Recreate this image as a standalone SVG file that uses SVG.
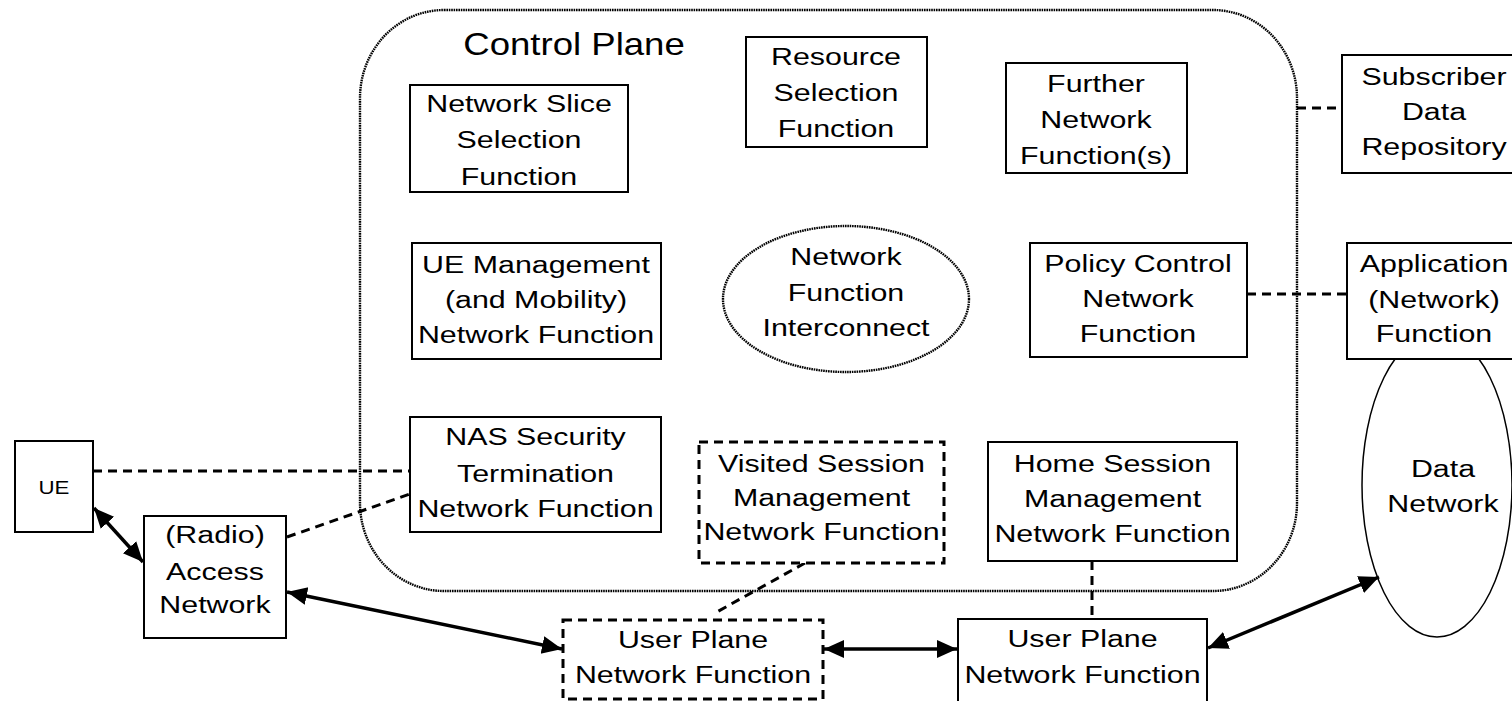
<svg xmlns="http://www.w3.org/2000/svg" width="1512" height="701" viewBox="0 0 1512 701">
<style>
.t{font-family:"Liberation Sans",Arial,sans-serif;font-size:24.5px;text-anchor:middle;fill:#000}
.box{fill:#fff;stroke:#000;stroke-width:2}
.dbox{fill:#fff;stroke:#000;stroke-width:3;stroke-dasharray:9 6}
.dot{fill:none;stroke:#000;stroke-width:2.4;stroke-dasharray:1.6 0.8}
.dash{fill:none;stroke:#000;stroke-width:3;stroke-dasharray:9 6}
.arr{fill:none;stroke:#000;stroke-width:3.5;marker-start:url(#ah);marker-end:url(#ah)}
</style>
<defs>
<marker id="ah" markerUnits="userSpaceOnUse" markerWidth="22" markerHeight="20" refX="20" refY="9" orient="auto-start-reverse">
<path d="M0,0 L20,9 L0,18 z" fill="#000"/>
</marker>
</defs>
<rect width="1512" height="701" fill="#fff"/>

<g id="control-plane">
<rect class="dot" x="360" y="10" width="937" height="581" rx="84" ry="88"/>
<text class="t" style="font-size:31px" transform="translate(574,0) scale(1.18,1)"><tspan x="0" y="55">Control Plane</tspan></text>
</g>

<g id="data-network">
<ellipse cx="1437" cy="485" rx="75" ry="152" fill="#fff" stroke="#000" stroke-width="1.5"/>
<text class="t" transform="translate(1443,0) scale(1.24,1)"><tspan x="0" y="477">Data</tspan><tspan x="0" y="512">Network</tspan></text>
</g>

<g id="connectors">
<line class="dash" x1="93" y1="471" x2="410" y2="471"/>
<line class="dash" x1="287" y1="537" x2="410" y2="494"/>
<line class="dash" x1="805" y1="563" x2="715" y2="613"/>
<line class="dash" x1="1092" y1="561" x2="1092" y2="619"/>
<line class="dash" x1="1297" y1="108" x2="1342" y2="108"/>
<line class="dash" x1="1247" y1="294" x2="1347" y2="294"/>
<line class="arr" x1="94" y1="508" x2="143" y2="562"/>
<line class="arr" x1="287" y1="592" x2="562" y2="649"/>
<line class="arr" x1="824" y1="649" x2="957" y2="649"/>
<line class="arr" x1="1208" y1="648" x2="1379" y2="577"/>
</g>

<g id="nssf">
<rect class="box" x="410" y="85" width="218" height="107"/>
<text class="t" transform="translate(519,0) scale(1.24,1)"><tspan x="0" y="112">Network Slice</tspan><tspan x="0" y="148">Selection</tspan><tspan x="0" y="185">Function</tspan></text>
</g>

<g id="resource-selection">
<rect class="box" x="746" y="37" width="181" height="110"/>
<text class="t" transform="translate(836,0) scale(1.24,1)"><tspan x="0" y="65">Resource</tspan><tspan x="0" y="101">Selection</tspan><tspan x="0" y="137">Function</tspan></text>
</g>

<g id="further-nf">
<rect class="box" x="1006" y="63" width="181" height="110"/>
<text class="t" transform="translate(1096,0) scale(1.24,1)"><tspan x="0" y="92">Further</tspan><tspan x="0" y="128">Network</tspan><tspan x="0" y="164">Function(s)</tspan></text>
</g>

<g id="subscriber-data">
<rect class="box" x="1342" y="55" width="190" height="118"/>
<text class="t" transform="translate(1434,0) scale(1.24,1)"><tspan x="0" y="85">Subscriber</tspan><tspan x="0" y="120">Data</tspan><tspan x="0" y="155">Repository</tspan></text>
</g>

<g id="ue-management">
<rect class="box" x="412" y="243" width="249" height="116"/>
<text class="t" transform="translate(536,0) scale(1.24,1)"><tspan x="0" y="273">UE Management</tspan><tspan x="0" y="308">(and Mobility)</tspan><tspan x="0" y="343">Network Function</tspan></text>
</g>

<g id="nf-interconnect">
<ellipse class="dot" cx="846" cy="299" rx="123" ry="73" fill="#fff"/>
<text class="t" transform="translate(846,0) scale(1.24,1)"><tspan x="0" y="265">Network</tspan><tspan x="0" y="301">Function</tspan><tspan x="0" y="336">Interconnect</tspan></text>
</g>

<g id="policy-control">
<rect class="box" x="1030" y="243" width="217" height="114"/>
<text class="t" transform="translate(1138,0) scale(1.24,1)"><tspan x="0" y="272">Policy Control</tspan><tspan x="0" y="307">Network</tspan><tspan x="0" y="342">Function</tspan></text>
</g>

<g id="application-function">
<rect class="box" x="1347" y="243" width="180" height="116"/>
<text class="t" transform="translate(1434,0) scale(1.24,1)"><tspan x="0" y="272">Application</tspan><tspan x="0" y="308">(Network)</tspan><tspan x="0" y="342">Function</tspan></text>
</g>

<g id="nas-security">
<rect class="box" x="410" y="417" width="251" height="115"/>
<text class="t" transform="translate(535.5,0) scale(1.24,1)"><tspan x="0" y="445">NAS Security</tspan><tspan x="0" y="482">Termination</tspan><tspan x="0" y="517">Network Function</tspan></text>
</g>

<g id="visited-session">
<rect class="dbox" x="699" y="442" width="245" height="121"/>
<text class="t" transform="translate(821.5,0) scale(1.24,1)"><tspan x="0" y="472">Visited Session</tspan><tspan x="0" y="506">Management</tspan><tspan x="0" y="540">Network Function</tspan></text>
</g>

<g id="home-session">
<rect class="box" x="988" y="442" width="249" height="119"/>
<text class="t" transform="translate(1112.5,0) scale(1.24,1)"><tspan x="0" y="472">Home Session</tspan><tspan x="0" y="507">Management</tspan><tspan x="0" y="542">Network Function</tspan></text>
</g>

<g id="ue">
<rect class="box" x="15" y="441" width="78" height="91"/>
<text class="t" style="font-size:18px" transform="translate(54,0) scale(1.24,1)"><tspan x="0" y="494">UE</tspan></text>
</g>

<g id="ran">
<rect class="box" x="144" y="516" width="142" height="122"/>
<text class="t" transform="translate(215,0) scale(1.24,1)"><tspan x="0" y="543">(Radio)</tspan><tspan x="0" y="580">Access</tspan><tspan x="0" y="613">Network</tspan></text>
</g>

<g id="upf-visited">
<rect class="dbox" x="563" y="620" width="260" height="79"/>
<text class="t" transform="translate(693,0) scale(1.24,1)"><tspan x="0" y="648">User Plane</tspan><tspan x="0" y="683">Network Function</tspan></text>
</g>

<g id="upf-home">
<rect class="box" x="958" y="619" width="249" height="84"/>
<text class="t" transform="translate(1082.5,0) scale(1.24,1)"><tspan x="0" y="647">User Plane</tspan><tspan x="0" y="683">Network Function</tspan></text>
</g>
</svg>
